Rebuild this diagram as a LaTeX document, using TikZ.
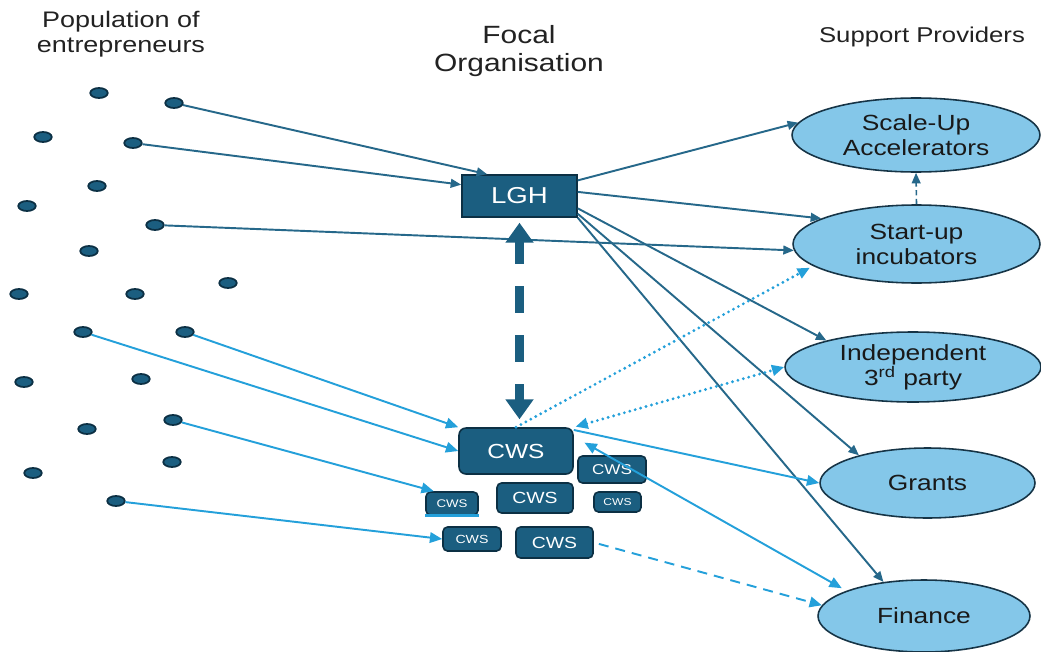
\documentclass[tikz,border=0pt]{standalone}
\usepackage{fontspec}
\setmainfont[FakeStretch=1.2]{Liberation Sans}
\usetikzlibrary{arrows.meta,shapes.geometric}
\definecolor{lghblue}{RGB}{27,94,128}
\definecolor{lghedge}{RGB}{12,48,68}
\definecolor{linkdark}{RGB}{38,104,138}
\definecolor{linklight}{RGB}{36,160,218}
\definecolor{provfill}{RGB}{132,199,233}
\definecolor{provedge}{RGB}{22,52,70}
\definecolor{headtext}{RGB}{34,34,34}

\begin{document}
\begin{tikzpicture}[
  x=0.02cm, y=-0.02cm,
  entre/.style={ellipse,draw=lghedge,fill=lghblue,line width=1pt,
                minimum width=3.5mm,minimum height=2mm,inner sep=0pt},
  orgbox/.style={draw=lghedge,fill=lghblue,text=white,line width=0.9pt,inner sep=0pt},
  cwsbox/.style={orgbox,rounded corners=0.9mm},
  provider/.style={ellipse,draw=provedge,fill=provfill,line width=0.9pt,inner sep=0pt,
                   align=center,text=black!90,font=\fontsize{12.5}{14.2}\selectfont},
  header/.style={align=center,text=headtext},
  darklink/.style={draw=linkdark,line width=1.1pt,>={Triangle[length=6pt,width=5pt]},->},
  lightlink/.style={draw=linklight,line width=1.1pt,>={Triangle[length=7pt,width=6pt]},->},
  dotlink/.style={lightlink,line width=1.8pt,line cap=round,dash pattern=on 0pt off 3.2pt},
  bigdash/.style={draw=lghblue,line width=5.1pt,>={Triangle[length=11.4pt,width=15.4pt]},<->,
                  dash pattern=on 15.4pt off 12.5pt,dash phase=2.4pt},
]
  \useasboundingbox (0,0) rectangle (1041,652);

  % column headings
  \node[header,font=\fontsize{12.8}{14.2}\selectfont] (popn) at (121,34) {Population of\\entrepreneurs};
  \node[header,font=\fontsize{14.2}{16}\selectfont] (focal) at (519,51) {Focal\\Organisation};
  \node[header,font=\fontsize{12.2}{13}\selectfont] (support) at (922,37) {Support Providers};

  % entrepreneurs
  \node[entre] (d1) at (99,93) {};
  \node[entre] (d2) at (174,103) {};
  \node[entre] (d3) at (43,137) {};
  \node[entre] (d4) at (133,143) {};
  \node[entre] (d5) at (97,186) {};
  \node[entre] (d6) at (27,206) {};
  \node[entre] (d7) at (155,225) {};
  \node[entre] (d8) at (89,251) {};
  \node[entre] (d9) at (19,294) {};
  \node[entre] (d10) at (135,294) {};
  \node[entre] (d11) at (228,283) {};
  \node[entre] (d12) at (83,332) {};
  \node[entre] (d13) at (185,332) {};
  \node[entre] (d14) at (24,382) {};
  \node[entre] (d15) at (141,379) {};
  \node[entre] (d16) at (87,429) {};
  \node[entre] (d17) at (173,420) {};
  \node[entre] (d18) at (33,473) {};
  \node[entre] (d19) at (172,462) {};
  \node[entre] (d20) at (116,501) {};

  % focal organisation
  \node[orgbox,minimum width=23mm,minimum height=8.4mm,font=\fontsize{13.1}{14}\selectfont]
    (lgh) at (519.5,196) {LGH};

  % CWS cluster
  \node[cwsbox,rounded corners=1.4mm,minimum width=22.8mm,minimum height=9.2mm,
        font=\fontsize{11.6}{12}\selectfont] (cwsA) at (516,451) {CWS};
  \node[cwsbox,minimum width=13.6mm,minimum height=5.4mm,font=\fontsize{8.1}{9}\selectfont]
    (cwsB) at (612,469.5) {CWS};
  \node[cwsbox,minimum width=15.2mm,minimum height=6mm,font=\fontsize{9.2}{10}\selectfont]
    (cwsC) at (535,498) {CWS};
  \node[cwsbox,minimum width=10.4mm,minimum height=4.6mm,font=\fontsize{6.3}{7}\selectfont]
    (cwsD) at (452,503.5) {CWS};
  \node[cwsbox,minimum width=9.4mm,minimum height=4mm,font=\fontsize{5.7}{6}\selectfont]
    (cwsE) at (617.5,502) {CWS};
  \node[cwsbox,minimum width=11.6mm,minimum height=4.8mm,font=\fontsize{6.7}{7}\selectfont]
    (cwsF) at (472,539) {CWS};
  \node[cwsbox,minimum width=15.4mm,minimum height=6.2mm,font=\fontsize{9.2}{10}\selectfont]
    (cwsG) at (554.5,542.5) {CWS};
  \draw[linklight,line width=1.5pt] (cwsD.south west) -- (cwsD.south east);

  % support providers
  \node[provider,minimum width=49.6mm,minimum height=14.8mm] (scale) at (916,135) {Scale-Up\\Accelerators};
  \node[provider,minimum width=49.4mm,minimum height=15.6mm] (start) at (916.5,244) {Start-up\\incubators};
  \node[provider,minimum width=51.2mm,minimum height=14mm] (indep) at (913,367) {Independent\\3\textsuperscript{rd} party};
  \node[provider,minimum width=43mm,minimum height=14mm] (grants) at (927.5,483) {Grants};
  \node[provider,minimum width=42.4mm,minimum height=14.4mm] (finance) at (924,616) {Finance};

  % entrepreneurs -> LGH
  \draw[darklink] (d2) -- (lgh.146);
  \draw[darklink] (d4) -- (lgh.169);
  \draw[darklink] (d7) -- (start.183);

  % LGH -> providers
  \draw[darklink] (lgh.15) -- (scale.174);
  \draw[darklink] (lgh.4) -- (start.165);
  \draw[darklink] (lgh.-12) -- (indep.163);
  \draw[darklink] (lgh.-17) -- (grants.158);
  \draw[darklink] (lgh.south east) -- (finance.140);
  \draw[darklink,line width=0.9pt,dash pattern=on 3pt off 2pt] (start.north) -- (scale.south);

  % entrepreneurs -> CWS
  \draw[lightlink] (d12) -- (cwsA.west);
  \draw[lightlink] (d13) -- (cwsA.north west);
  \draw[lightlink] (d17) -- (cwsD.146);
  \draw[lightlink] (d20) -- (cwsF.west);

  % CWS -> providers
  \draw[lightlink] (cwsA.20) -- (grants.west);
  \draw[lightlink,<->,shorten <=7pt,shorten >=3pt] (cwsA.14) -- (finance.162);
  \draw[lightlink,dash pattern=on 5.7pt off 4pt,shorten <=3pt] (cwsG.east) -- (finance.174);
  \draw[dotlink,shorten >=2pt] (cwsA.north) -- (start.192);
  \draw[dotlink,<->,shorten <=1pt] (cwsA.north east) -- (indep.west);

  % LGH <-> CWS
  \draw[bigdash,shorten <=2.8pt,shorten >=4.5pt] (lgh.south) -- (lgh.south |- cwsA.north);
\end{tikzpicture}
\end{document}
